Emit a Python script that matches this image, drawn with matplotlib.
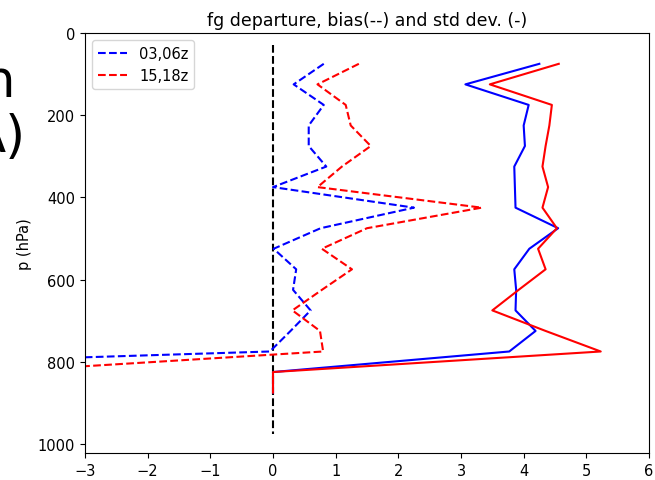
import numpy as np
import matplotlib
matplotlib.use("Agg")
import matplotlib.pyplot as plt

# pressure levels (hPa)
levels = [75, 125, 175, 225, 275, 325, 375, 425, 475, 525, 575, 625, 675, 725, 775, 825, 875]

# bias (dashed)
bias_0306 = [0.81, 0.33, 0.81, 0.57, 0.57, 0.85, 0.0, 2.25, 0.76, 0.01, 0.37, 0.32, 0.60, 0.28, -0.05, -10.5, np.nan]
bias_1518 = [1.37, 0.71, 1.16, 1.24, 1.56, 1.10, 0.71, 3.33, 1.50, 0.78, 1.26, 0.78, 0.31, 0.75, 0.80, -4.5, np.nan]

# std dev (solid)
std_0306 = [4.25, 3.07, 4.08, 4.00, 4.02, 3.85, 3.86, 3.87, 4.55, 4.09, 3.85, 3.88, 3.87, 4.19, 3.77, 0.0, 0.0]
std_1518 = [4.56, 3.46, 4.45, 4.41, 4.35, 4.30, 4.39, 4.30, 4.53, 4.23, 4.35, 3.92, 3.50, 4.35, 5.23, 0.0, 0.0]

zero_line_p = [30, 975]

fig = plt.figure(figsize=(6.55, 4.81), dpi=100)
ax = fig.add_axes([85/655, 1-454/481, (649-85)/655, (454-34)/481])

ax.plot([0, 0], zero_line_p, 'k--', lw=1.5)
ax.plot(bias_0306, levels, 'b--', lw=1.5, label='03,06z')
ax.plot(bias_1518, levels, 'r--', lw=1.5, label='15,18z')
ax.plot(std_0306, levels, 'b-', lw=1.5)
ax.plot(std_1518, levels, 'r-', lw=1.5)

ax.set_xlim(-3, 6)
ax.set_ylim(1022, 0)
ax.set_yticks([0, 200, 400, 600, 800, 1000])
ax.tick_params(labelsize=10.5)
ax.set_ylabel('p (hPa)', fontsize=10.5)
ax.set_title('fg departure, bias(--) and std dev. (-)', fontsize=12.5)
ax.legend(loc='upper left', fontsize=10.5)

# pieces of slide text cut by the left edge
fig.text(15/655, 1-97/481, 'n', fontsize=37, ha='right', va='baseline')
fig.text(26/655, 1-152/481, 'A)', fontsize=37, ha='right', va='baseline')

fig.savefig('out.png', dpi=100)
